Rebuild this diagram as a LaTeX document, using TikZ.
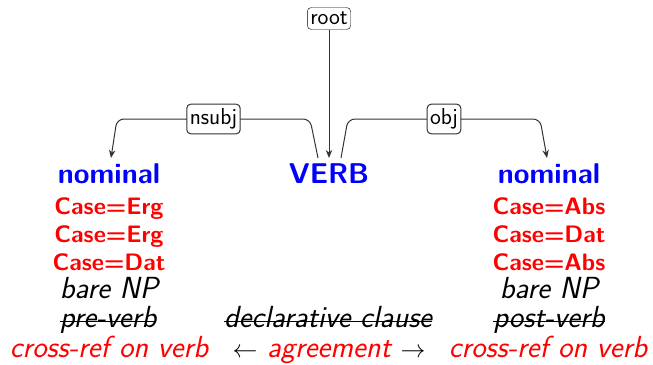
\documentclass[tikz,border=0pt]{standalone}
\usepackage{fontspec}
\usetikzlibrary{arrows.meta}
\tikzset{
  word/.style={anchor=base, inner xsep=0pt, inner ysep=5pt, text=blue,
    font=\sffamily\bfseries\fontsize{28.6}{33}\selectfont},
  feat/.style={anchor=base, inner sep=0pt, text=red,
    font=\sffamily\bfseries\fontsize{23.8}{28}\selectfont},
  note/.style={anchor=base, inner sep=0pt,
    font=\sffamily\itshape\fontsize{30.5}{35}\selectfont},
  strike/.style={line width=1pt},
  deplabel/.style={draw, rounded corners=4pt, fill=white, inner xsep=3pt,
    inner ysep=4.5pt, font=\sffamily\fontsize{23}{27}\selectfont},
  dep/.style={draw=black!80, line width=1pt, rounded corners=7pt,
    -{Stealth[length=8pt,width=6.5pt]}},
}
\begin{document}
\begin{tikzpicture}[x=1pt,y=-1pt]
  \useasboundingbox (0,0) rectangle (653,364);
  % tete et dependants
  \node[word] (verb) at (329,183) {VERB};
  \node[word] (nomL) at (109,183) {nominal};
  \node[word] (nomR) at (549,183) {nominal};
  \node[deplabel] (root) at (329,18.5) {root};
  % arcs
  \coordinate (lup) at (310,119);
  \coordinate (lout) at (117,119);
  \coordinate (rup) at (348,119);
  \coordinate (rout) at (540,119);
  \draw[dep] (root) -- (verb);
  \draw[dep] ([xshift=-11pt]verb.north) -- (lup)
    -- node[deplabel] (nsubj) {nsubj} (lout) -- ([xshift=2pt]nomL.north);
  \draw[dep] ([xshift=12pt]verb.north) -- (rup)
    -- node[deplabel] (obj) {obj} (rout) -- ([xshift=-2pt]nomR.north);
  % colonne gauche
  \node[feat] (erg1) at (109,214) {Case=Erg};
  \node[feat] (erg2) at (109,242) {Case=Erg};
  \node[feat] (datL) at (109,270) {Case=Dat};
  \node[note] (bareL) at (109,298) {bare NP};
  \node[note] (preverb) at (108,327) {pre-verb};
  \node[note, text=red] (crossL) at (109,357) {cross-ref on verb};
  % colonne droite
  \node[feat] (abs1) at (549,214) {Case=Abs};
  \node[feat] (datR) at (549,242) {Case=Dat};
  \node[feat] (abs2) at (549,270) {Case=Abs};
  \node[note] (bareR) at (549,298) {bare NP};
  \node[note] (postverb) at (549,327) {post-verb};
  \node[note, text=red] (crossR) at (548,357) {cross-ref on verb};
  % milieu
  \node[note] (decl) at (328,327) {declarative clause};
  \node[note] (agree) at (329,357) {$\leftarrow$ \textcolor{red}{agreement} $\rightarrow$};
  % barres
  \draw[strike] ([yshift=5.5pt]preverb.base west) -- ([yshift=5.5pt]preverb.base east);
  \draw[strike] ([yshift=5.5pt]postverb.base west) -- ([yshift=5.5pt]postverb.base east);
  \draw[strike] ([yshift=5.5pt]decl.base west) -- ([yshift=5.5pt]decl.base east);
\end{tikzpicture}
\end{document}
